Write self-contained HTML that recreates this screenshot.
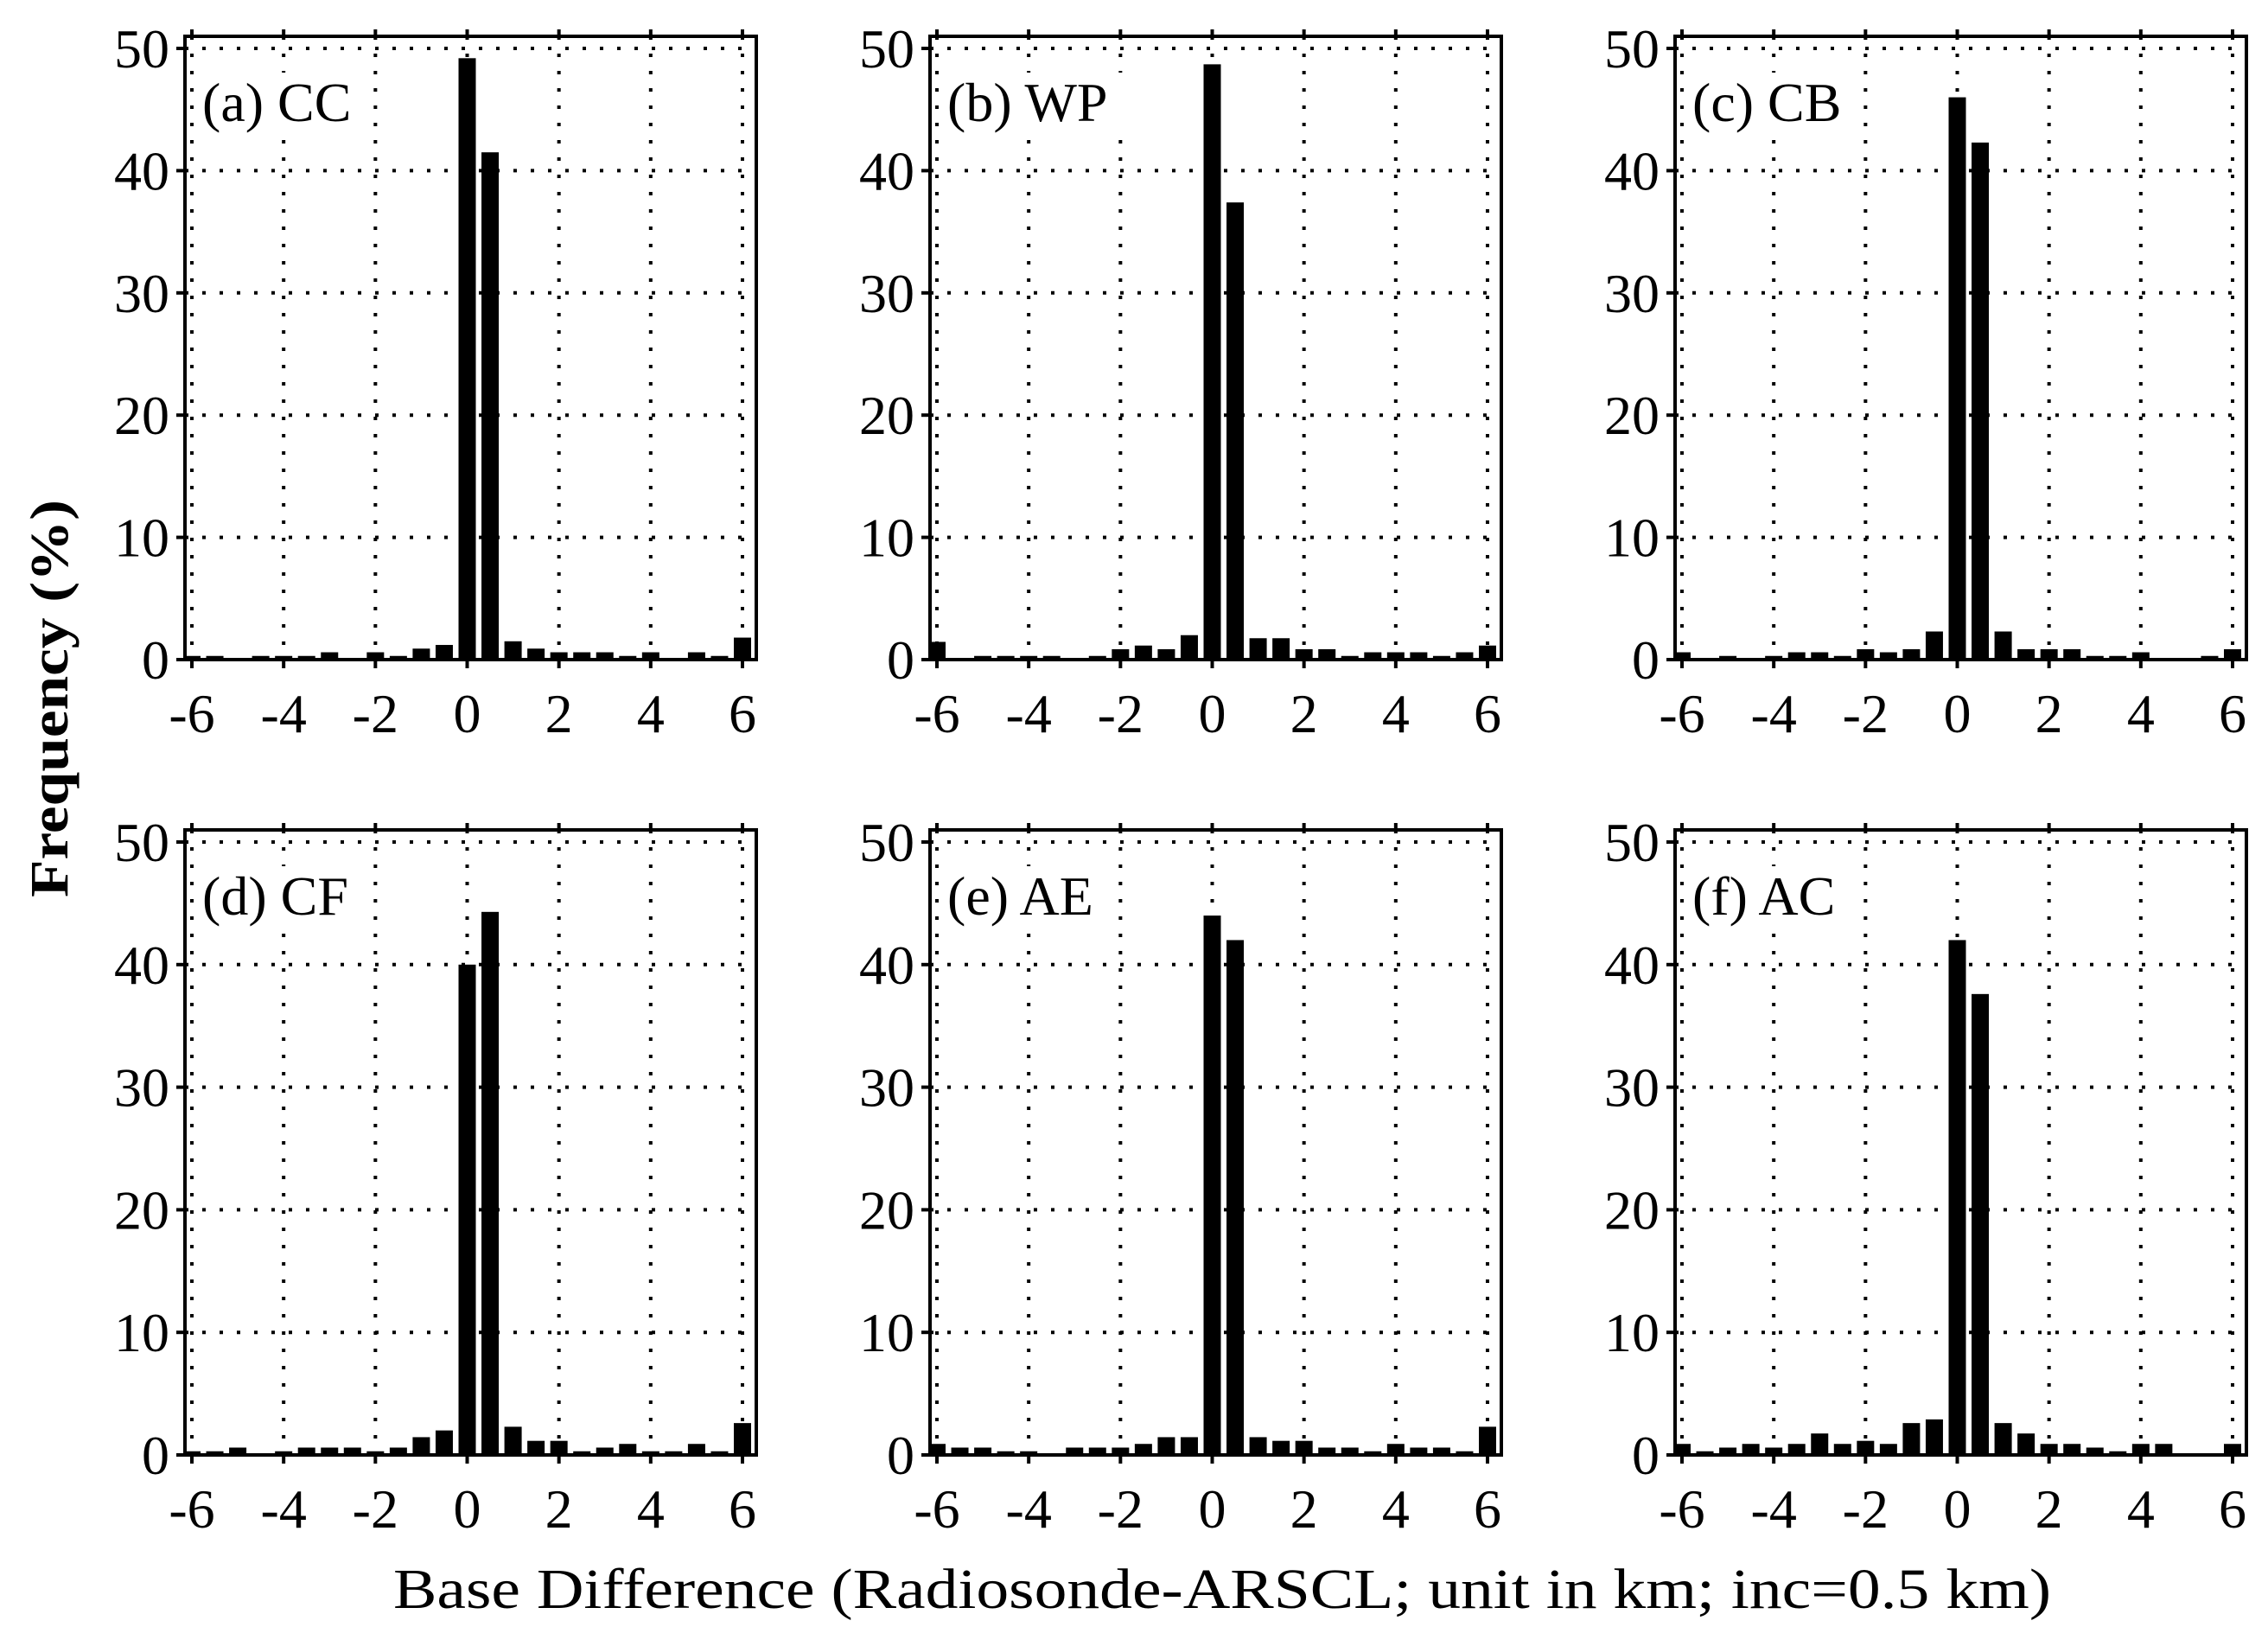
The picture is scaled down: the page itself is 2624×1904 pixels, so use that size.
<!DOCTYPE html>
<html><head><meta charset="utf-8">
<style>
html,body{margin:0;padding:0;background:#fff;}
svg{display:block;}
text{font-family:"Liberation Serif","DejaVu Serif",serif;fill:#000;}
</style></head>
<body>
<svg id="fig" width="2624" height="1904" viewBox="0 0 2624 1904" xmlns="http://www.w3.org/2000/svg">
<rect x="0" y="0" width="2624" height="1904" fill="#fff"/>
<text x="0" y="0" transform="translate(78,808) rotate(-90)" text-anchor="middle" font-size="62" font-weight="bold" textLength="460" lengthAdjust="spacingAndGlyphs">Frequency (%)</text>
<text x="1414" y="1860" text-anchor="middle" font-size="66" textLength="1918" lengthAdjust="spacingAndGlyphs">Base Difference (Radiosonde-ARSCL; unit in km; inc=0.5 km)</text>
</svg>
<script>
const binCenters = [-6,-5.5,-5,-4.5,-4,-3.5,-3,-2.5,-2,-1.5,-1,-0.5,0,0.5,1,1.5,2,2.5,3,3.5,4,4.5,5,5.5,6];
const xTicks = [-6,-4,-2,0,2,4,6];
const yTicks = [0,10,20,30,40,50];
const panelLabels = ["(a) CC","(b) WP","(c) CB","(d) CF","(e) AE","(f) AC"];
const freqCC = [0.3,0.3,0,0.3,0.3,0.3,0.6,0,0.6,0.3,0.9,1.2,49.2,41.5,1.5,0.9,0.6,0.6,0.6,0.3,0.6,0,0.6,0.3,1.8];
const freqWP = [1.45,0,0.3,0.3,0.3,0.3,0,0.3,0.85,1.15,0.85,2.0,48.7,37.4,1.75,1.75,0.85,0.85,0.3,0.6,0.6,0.6,0.3,0.6,1.15];
const freqCB = [0.6,0,0.3,0,0.3,0.6,0.6,0.3,0.85,0.6,0.85,2.3,46.0,42.3,2.3,0.85,0.85,0.85,0.3,0.3,0.6,0,0,0.3,0.85];
const freqCF = [0.3,0.3,0.6,0,0.3,0.6,0.6,0.6,0.3,0.6,1.45,2.0,40.0,44.3,2.3,1.15,1.15,0.3,0.6,0.9,0.3,0.3,0.9,0.3,2.6];
const freqAE = [0.9,0.6,0.6,0.3,0.3,0,0.6,0.6,0.6,0.9,1.45,1.45,44.0,42.0,1.45,1.15,1.15,0.6,0.6,0.3,0.9,0.6,0.6,0.3,2.3];
const freqAC = [0.9,0.3,0.6,0.9,0.6,0.9,1.75,0.9,1.15,0.9,2.6,2.9,42.0,37.6,2.6,1.75,0.9,0.9,0.6,0.3,0.9,0.9,0,0,0.9];
const series = [freqCC,freqWP,freqCB,freqCF,freqAE,freqAC];
const seriesNames = ["cc","wp","cb","cf","ae","ac"];

const NS="http://www.w3.org/2000/svg";
const svg=document.getElementById('fig');
const colLeft=[214,1076,1938];
const rowY50=[56,974], rowY0=[763,1683];
const frameW=661;
function mk(tag,attrs,parent){const e=document.createElementNS(NS,tag);for(const k in attrs)e.setAttribute(k,attrs[k]);(parent||svg).appendChild(e);return e;}

for(let p=0;p<6;p++){
  const c=p%3, r=Math.floor(p/3);
  const fl=colLeft[c];
  const xs=v=>fl+8+(v+6)*(637/12);
  const ys=v=>rowY0[r]-(v/50)*(rowY0[r]-rowY50[r]);
  const g=mk('g',{});
  
  
  const top=ys(50)-14, bot=ys(0);
  yTicks.forEach(t=>{ if(t===0)return;
    const l=mk('line',{x1:fl,x2:fl+frameW,y1:ys(t),y2:ys(t),stroke:'#000','stroke-width':4,'stroke-dasharray':'4 16'},g);
    
    
  });
  xTicks.forEach(t=>{
    const l=mk('line',{x1:xs(t),x2:xs(t),y1:top,y2:bot,stroke:'#000','stroke-width':4,'stroke-dasharray':'4 16'},g);
    
    
  });
  const lb=mk('rect',{x:fl+14,y:ys(50)+28,width:p===1?215:195,height:72,fill:'#fff'},g);
  
  
  const lt=mk('text',{x:fl+20,y:ys(50)+84,'font-size':64},g);
  lt.textContent=panelLabels[p];
  
  
  series[p].forEach((v,i)=>{
    if(v<=0)return;
    const b=mk('rect',{x:xs(binCenters[i])-10,y:ys(v),width:20,height:ys(0)-ys(v),fill:'#000'},g);
    
    
  });
  const fr=mk('rect',{x:fl,y:top,width:frameW,height:bot-top,fill:'none',stroke:'#000','stroke-width':4},g);
  
  
  xTicks.forEach(t=>{
    mk('line',{x1:xs(t),x2:xs(t),y1:bot,y2:bot+10,stroke:'#000','stroke-width':4},g);
    mk('line',{x1:xs(t),x2:xs(t),y1:top-8,y2:top,stroke:'#000','stroke-width':4},g);
    const tx=mk('text',{x:xs(t),y:bot+84,'font-size':64,'text-anchor':'middle'},g);
    tx.textContent=t;
    
    
  });
  yTicks.forEach(t=>{
    mk('line',{x1:fl-10,x2:fl,y1:ys(t),y2:ys(t),stroke:'#000','stroke-width':4},g);
    const ty=mk('text',{x:fl-18,y:ys(t)+22,'font-size':64,'text-anchor':'end'},g);
    ty.textContent=t;
    
    
  });
}
</script>
</body></html>
